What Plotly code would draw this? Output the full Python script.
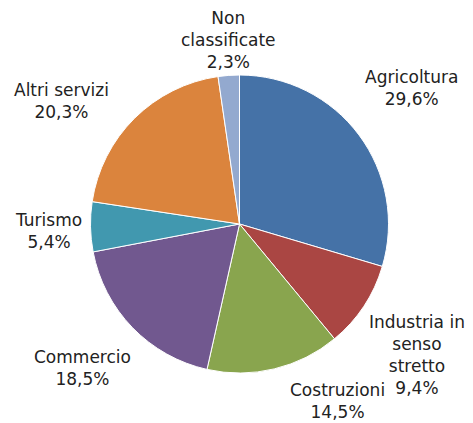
import plotly.graph_objects as go

categories = ["Agricoltura", "Industria in senso stretto", "Costruzioni", "Commercio",
              "Turismo", "Altri servizi", "Non classificate"]
values = [29.6, 9.4, 14.5, 18.5, 5.4, 20.3, 2.3]
label_texts = ["Agricoltura<br>29,6%", "Industria in<br>senso<br>stretto<br>9,4%",
               "Costruzioni<br>14,5%", "Commercio<br>18,5%", "Turismo<br>5,4%",
               "Altri servizi<br>20,3%", "Non<br>classificate<br>2,3%"]
colors = ["#4572A7", "#AA4643", "#89A54E", "#71588F", "#4198AF", "#DB843D", "#93A9CF"]
# label block centres in page pixels (x from left, y from top)
label_pos = [(411, 88), (417, 355), (337, 401), (82, 368), (48, 231), (61, 101), (228, 40)]

OFF = 8  # default body margin of the html page
W, H = 473 - OFF, 423 - OFF
cx, cy, r = 239.5 - OFF, 224 - OFF, 149

fig = go.Figure(go.Pie(
    labels=categories, values=values, sort=False, direction="clockwise",
    rotation=0, marker=dict(colors=colors, line=dict(color="white", width=1)),
    textinfo="none", hoverinfo="label+percent", showlegend=False,
    domain=dict(x=[(cx - r) / W, (cx + r) / W], y=[(H - cy - r) / H, (H - cy + r) / H]),
))

for txt, (px, py) in zip(label_texts, label_pos):
    fig.add_annotation(x=(px - OFF) / W, y=1 - (py - OFF) / H, xref="paper", yref="paper",
                       text=txt, showarrow=False, xanchor="center", yanchor="middle",
                       font=dict(family="DejaVu Sans", size=17, color="#222222"))

fig.update_layout(width=W, height=H, margin=dict(l=0, r=0, t=0, b=0),
                  paper_bgcolor="white", plot_bgcolor="white")
fig.write_html("out.html")
